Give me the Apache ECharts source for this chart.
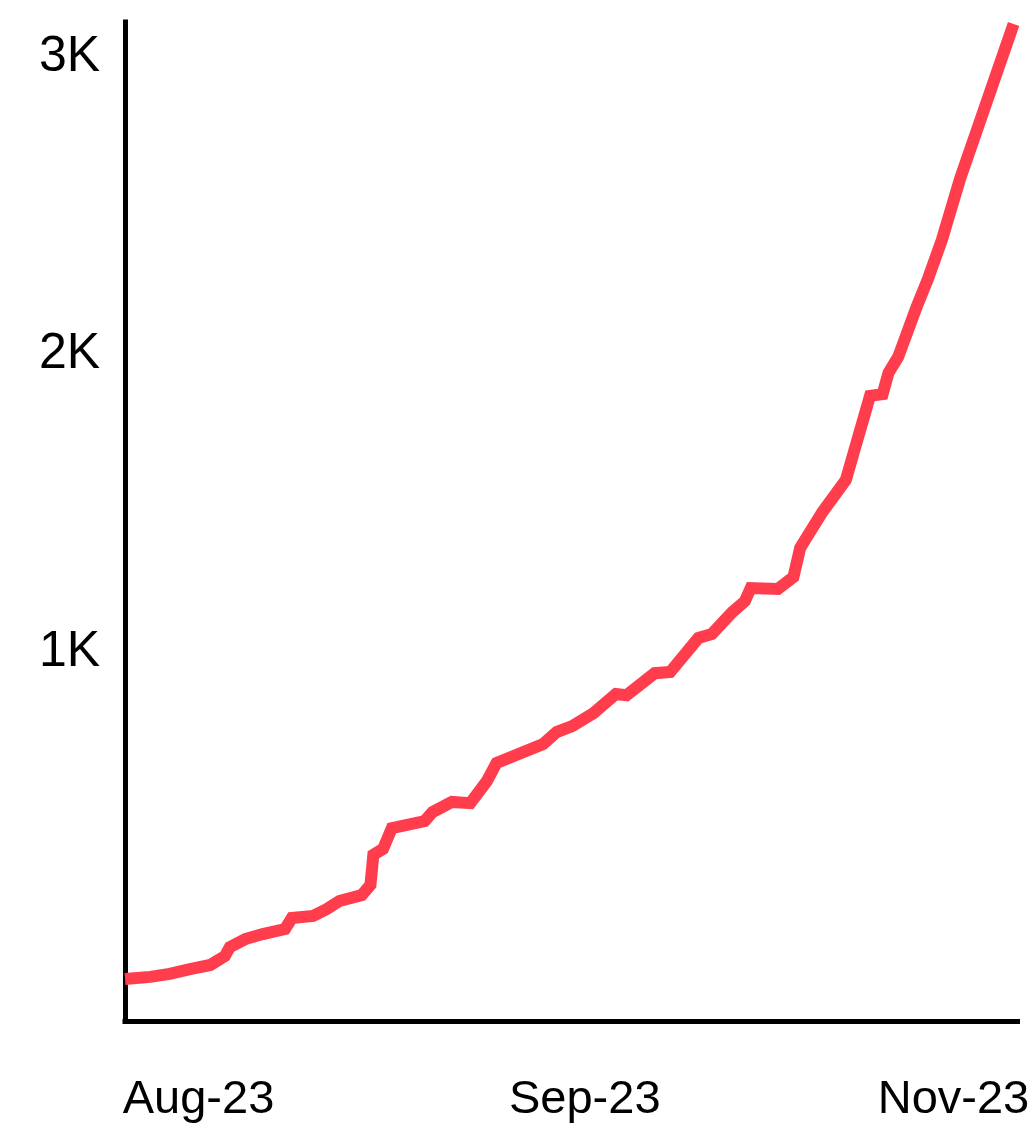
<!DOCTYPE html>
<html>
<head>
<meta charset="utf-8">
<style>
  html, body { margin: 0; padding: 0; background: #ffffff; }
  #chart { width: 1035px; height: 1128px; }
</style>
<script src="https://cdn.jsdelivr.net/npm/echarts@6/dist/echarts.min.js"></script>
</head>
<body>
<div id="chart"></div>
<script>
// Day offset from the start of the period (Aug-23) for each point
const dayOffsets = [0, 2.6, 4.6, 6.7, 8.8, 10.3, 10.8, 12.4, 14.2, 16.5, 17.2, 19.4, 20.8, 22.1, 24.4, 25.3, 25.6, 26.6, 27.5, 30.9, 31.7, 33.7, 35.6, 37.3, 38.3, 43.1, 44.5, 46.1, 48.3, 50.6, 51.7, 54.6, 56.2, 59.1, 60.5, 62.6, 63.9, 64.5, 67.3, 68.9, 69.6, 71.9, 74.3, 76.8, 78.1, 78.7, 79.7, 81.6, 82.8, 84.2, 86.1, 87.1, 91.6];
// Cumulative values
const values = [143, 150, 160, 176, 190, 220, 250, 277, 294, 311, 348, 355, 378, 405, 425, 459, 560, 580, 650, 674, 704, 738, 734, 808, 869, 933, 973, 993, 1037, 1101, 1097, 1171, 1175, 1289, 1303, 1376, 1413, 1457, 1454, 1494, 1592, 1713, 1820, 2103, 2109, 2180, 2234, 2402, 2499, 2627, 2835, 2929, 3353];
// Tick labels
const xTickLabels = ['Aug-23', 'Sep-23', 'Nov-23'];
const yTickLabels = ['1K', '2K', '3K'];

const X_MAX = 92;
const Y_MAX = 3360;

const points = dayOffsets.map((d, i) => [d, values[i]]);

const chart = echarts.init(document.getElementById('chart'), null, { renderer: 'canvas' });
const FONT = '"Liberation Sans", "Helvetica Neue", Helvetica, Arial, sans-serif';

chart.setOption({
  animation: false,
  backgroundColor: '#ffffff',
  grid: { left: 125, right: 17.5, top: 22, bottom: 106.5, containLabel: false },
  xAxis: {
    type: 'value',
    min: 0,
    max: X_MAX,
    interval: X_MAX / 2,
    axisLine: { show: true, onZero: false, lineStyle: { color: '#000000', width: 5, cap: 'square' } },
    axisTick: { show: false },
    splitLine: { show: false },
    axisLabel: {
      show: true,
      margin: 55,
      color: '#000000',
      fontFamily: FONT,
      fontSize: 47,
      align: 'center',
      formatter: function (v) {
        const idx = Math.round(v / (X_MAX / 2));
        return '{l' + idx + '|' + xTickLabels[idx] + '}';
      },
      rich: {
        l0: { fontFamily: FONT, fontSize: 47, color: '#000', padding: [0, 0, 0, 147] },
        l1: { fontFamily: FONT, fontSize: 47, color: '#000', padding: [0, 0, 0, 27] },
        l2: { fontFamily: FONT, fontSize: 47, color: '#000', padding: [0, 128, 0, 0] }
      }
    }
  },
  yAxis: {
    type: 'value',
    min: 0,
    max: Y_MAX,
    interval: 1000,
    axisLine: { show: true, onZero: false, lineStyle: { color: '#000000', width: 5, cap: 'square' } },
    axisTick: { show: false },
    splitLine: { show: false },
    axisLabel: {
      show: true,
      margin: 86,
      align: 'left',
      verticalAlign: 'middle',
      color: '#000000',
      fontFamily: FONT,
      fontSize: 50,
      formatter: function (v) {
        if (v > 0 && v % 1000 === 0) return '{y|' + (yTickLabels[v / 1000 - 1] || '') + '}';
        return '';
      },
      rich: {
        y: { fontFamily: FONT, fontSize: 50, color: '#000', padding: [0, 0, 144, 0] }
      }
    }
  },
  series: [{
    type: 'line',
    data: points,
    showSymbol: false,
    symbol: 'none',
    smooth: false,
    clip: false,
    lineStyle: { color: '#FF3D4C', width: 12, cap: 'butt', join: 'miter' }
  }]
});
</script>
</body>
</html>
